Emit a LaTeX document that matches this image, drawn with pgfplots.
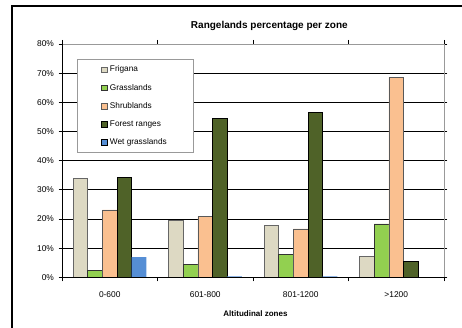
\documentclass[border=0pt]{standalone}
\usepackage{pgfplots}
\pgfplotsset{compat=1.18}
\usepackage{fontspec}
\setmainfont{Liberation Sans}
\definecolor{cFri}{HTML}{DDD9C3}
\definecolor{cGra}{HTML}{92D050}
\definecolor{cShr}{HTML}{FAC090}
\definecolor{cFor}{HTML}{4F6228}
\definecolor{cWet}{HTML}{558ED5}
\begin{document}
\begin{tikzpicture}[x=1pt,y=1pt]
\useasboundingbox (0,0) rectangle (346.5,246);
\draw[line width=0.8pt] (9,-10) -- (9,241.5) -- (360,241.5);
\begin{axis}[
  at={(46.5pt,38pt)}, anchor=south west, scale only axis,
  width=286.5pt, height=175pt,
  ybar=0pt, bar width=11pt,
  xmin=-0.5, xmax=3.5, ymin=0, ymax=80,
  clip=false,
  axis line style={draw=none},
  xtick={0,1,2,3},
  xticklabels={0-600,601-800,801-1200,>1200},
  minor xtick={-0.5,0.5,1.5,2.5,3.5},
  major x tick style={draw=none},
  minor x tick style={black, line width=0.5pt},
  minor tick length=3pt,
  tick align=outside,
  major tick length=2.5pt,
  ytick={0,10,...,80},
  yticklabels={0\%,10\%,20\%,30\%,40\%,50\%,60\%,70\%,80\%},
  major y tick style={black, line width=0.5pt},
  ymajorgrids,
  grid style={black, line width=0.6pt},
  tick label style={font=\fontsize{6.3}{7}\selectfont},
  xticklabel shift=5pt,
  legend style={at={(rel axis cs:0.039,0.936)}, anchor=north west,
    draw=gray!80, fill=white, line width=0.6pt,
    font=\fontsize{6.2}{7}\selectfont, row sep=3.6pt,
    inner xsep=18pt, inner ysep=3pt},
  legend cell align=left,
  legend image code/.code={\draw[#1, line width=0.5pt] (0pt,-2pt) rectangle (4pt,2pt);},
]
\addplot[fill=cFri, draw=black!60, line width=0.6pt] coordinates {(0,33.8) (1,19.6) (2,17.9) (3,7.2)};
\addplot[fill=cGra, draw=black!80, line width=0.6pt] coordinates {(0,2.3) (1,4.5) (2,7.9) (3,18.3)};
\addplot[fill=cShr, draw=black!65, line width=0.6pt] coordinates {(0,23.1) (1,20.9) (2,16.6) (3,68.6)};
\addplot[fill=cFor, draw=black, line width=0.6pt] coordinates {(0,34.1) (1,54.5) (2,56.6) (3,5.5)};
\addplot[fill=cWet, draw=none] coordinates {(0,6.9) (1,0.3) (2,0.3) (3,0)};
\legend{Frigana,Grasslands,Shrublands,Forest ranges,Wet grasslands}
\draw[gray!80, line width=0.6pt] (rel axis cs:0,1) -- (rel axis cs:1,1) -- (rel axis cs:1,0);
\draw[black, line width=0.6pt] (rel axis cs:0,1) -- (rel axis cs:0,0) -- (rel axis cs:1,0);
\end{axis}
\node[font=\bfseries\fontsize{7.5}{9}\selectfont] at (202,226.5) {Rangelands percentage per zone};
\node[font=\bfseries\fontsize{6}{7}\selectfont] at (191.6,10.5) {Altitudinal zones};
\end{tikzpicture}
\end{document}
